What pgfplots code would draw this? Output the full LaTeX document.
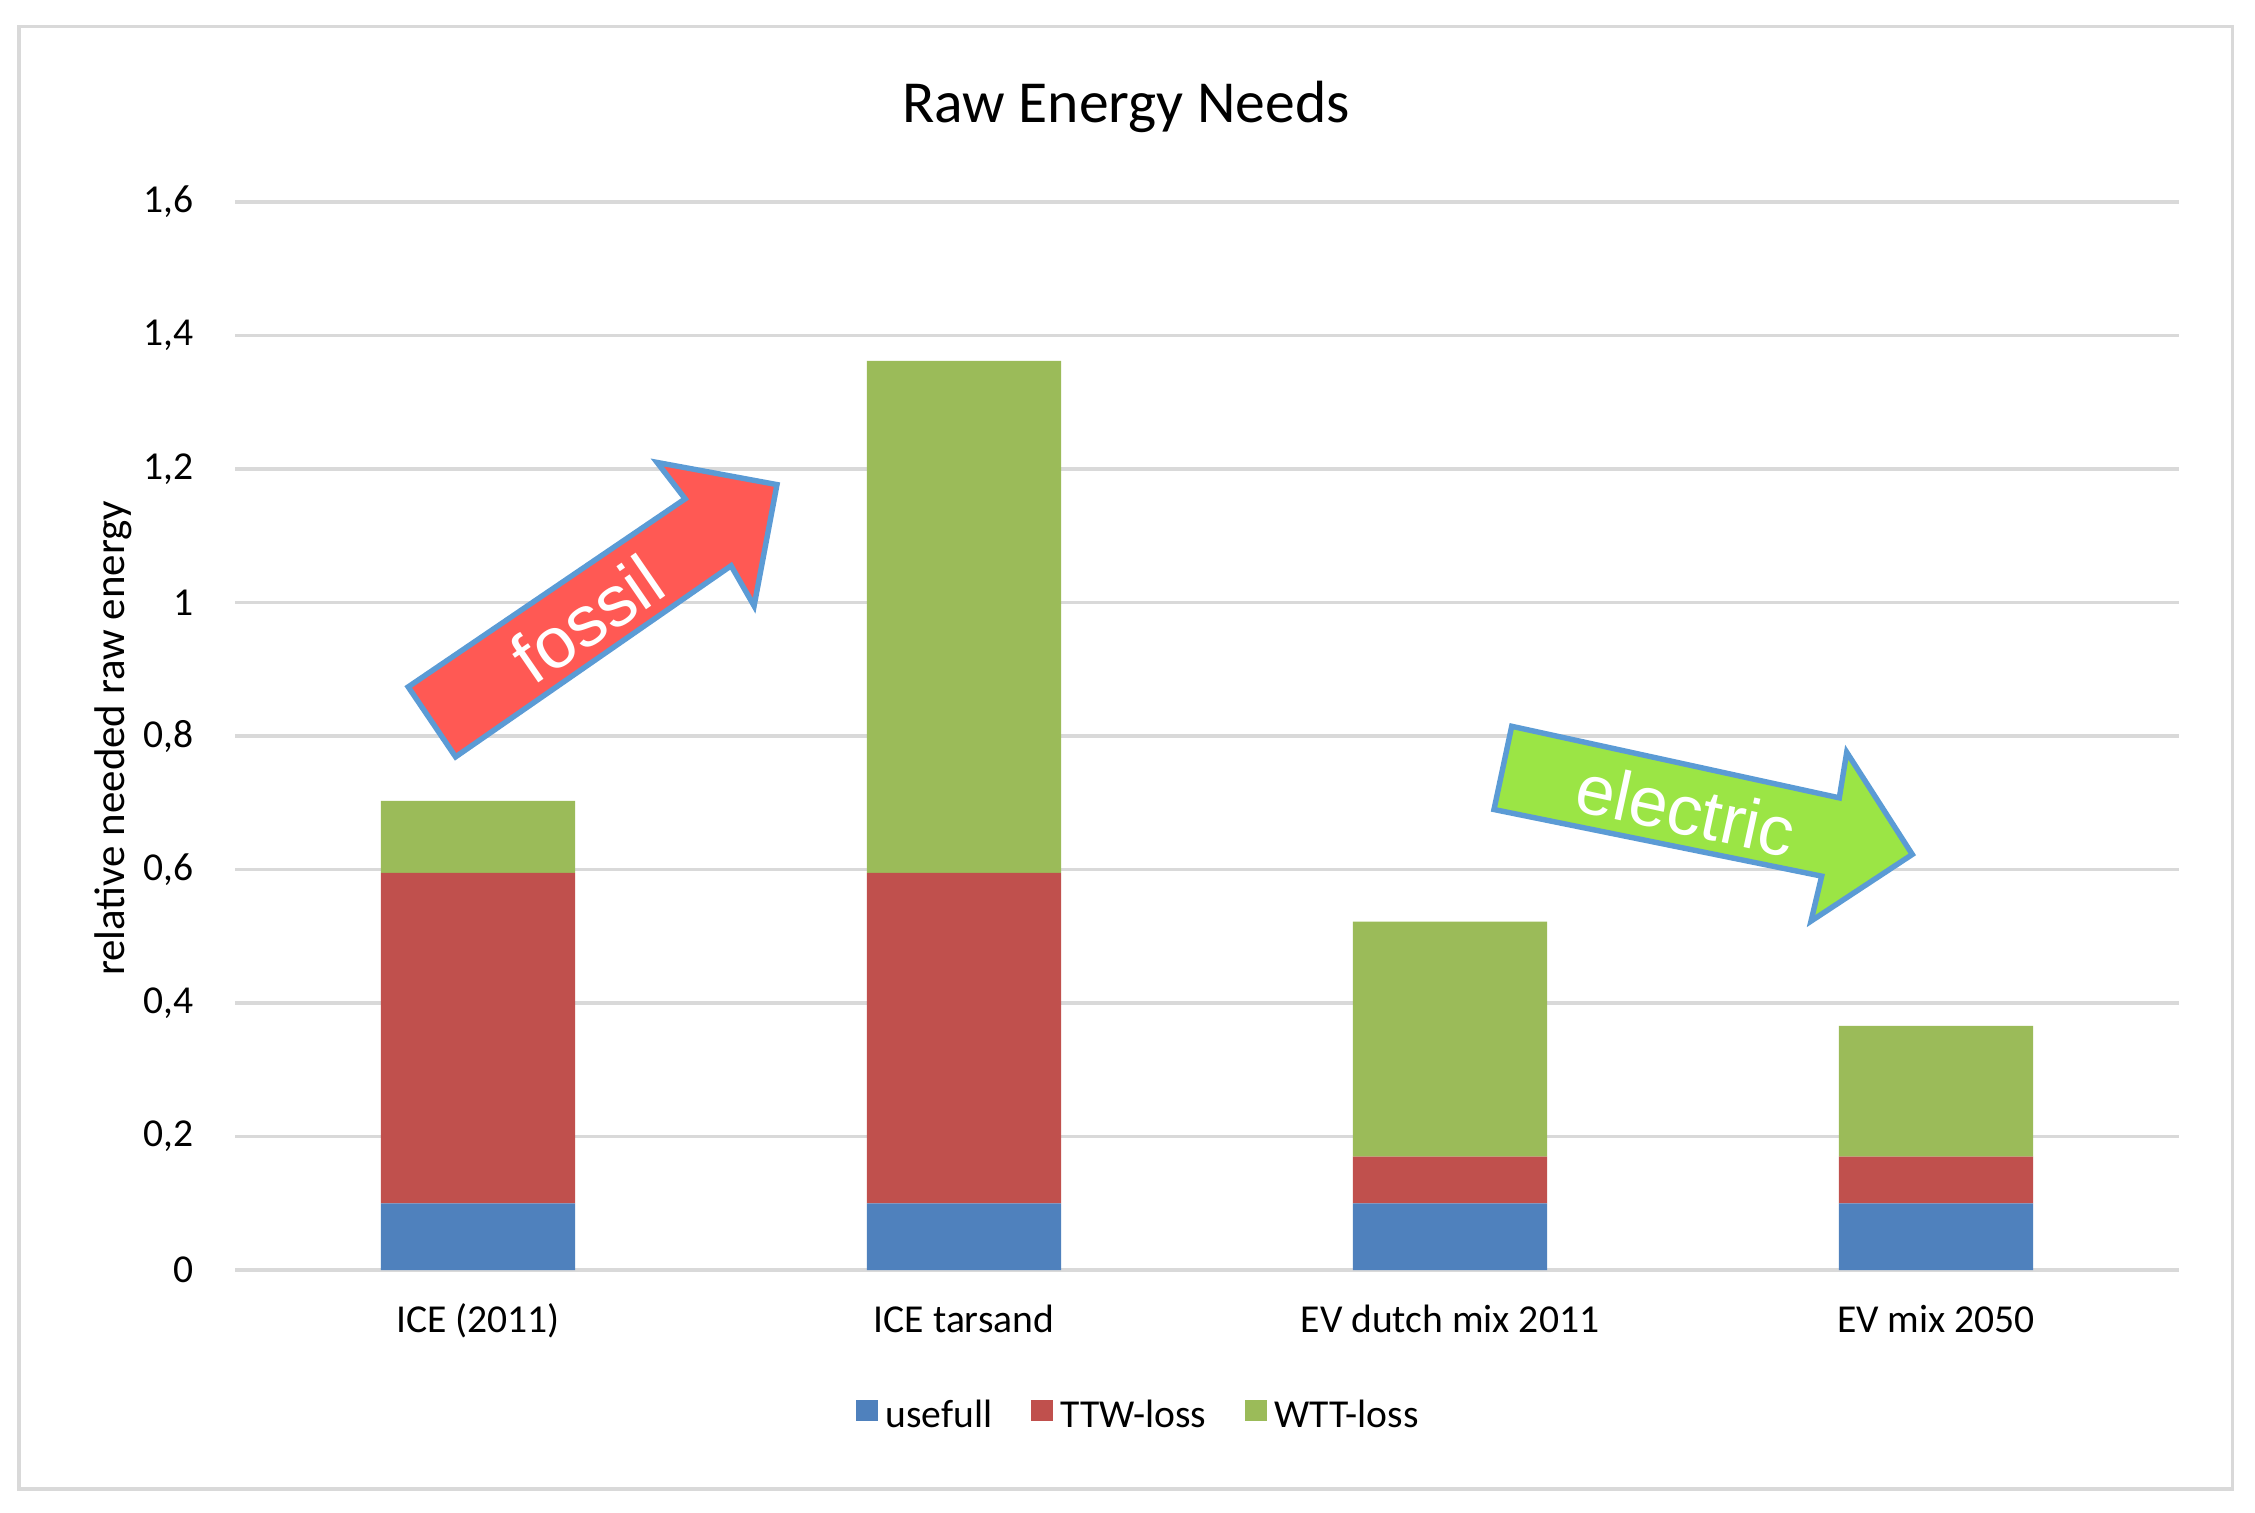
\documentclass[border=0pt]{standalone}
\usepackage{fontspec}
\setmainfont{Carlito}
\newfontfamily\arialfont{Liberation Sans}
\usepackage{pgfplots}
\pgfplotsset{compat=1.18}
\definecolor{cblue}{HTML}{4F81BD}
\definecolor{cred}{HTML}{C0504D}
\definecolor{cgreen}{HTML}{9BBB59}
\definecolor{gridgray}{HTML}{D9D9D9}
\definecolor{arrowblue}{HTML}{5B9BD5}
\definecolor{fossilred}{HTML}{FF5954}
\definecolor{elecgreen}{HTML}{9BE545}
\begin{document}
\begin{tikzpicture}
\useasboundingbox (0,0) rectangle (541.2pt,363.12pt);
\fill[white] (0,0) rectangle (541.2pt,363.12pt);
\draw[gridgray, line width=0.85pt] (4.6pt,5.8pt) rectangle (535.8pt,356.8pt);
\begin{axis}[
  at={(56.4pt,58.3pt)}, anchor=south west,
  width=466.56pt, height=256.3pt, scale only axis,
  ybar stacked, bar width=0.4,
  xmin=-0.5, xmax=3.5, ymin=0, ymax=1.6,
  xtick={0,1,2,3},
  xticklabels={ICE (2011),ICE tarsand,EV dutch mix 2011,EV mix 2050},
  ytick={0,0.2,0.4,0.6,0.8,1,1.2,1.4,1.6},
  /pgf/number format/use comma,
  /pgf/number format/assume math mode=true,
  ymajorgrids, grid style={gridgray, line width=0.85pt},
  axis line style={draw=none},
  major tick length=0pt,
  tick style={draw=none},
  yticklabel style={font=\fontsize{9.5}{11}\selectfont, anchor=east, inner sep=0pt, xshift=-9.8pt},
  xticklabel style={font=\fontsize{9.5}{11}\selectfont, anchor=base, inner sep=0pt, yshift=-15pt},
  legend columns=3,
  legend cell align=left,
  legend style={at={(0.3192,-0.1372)}, anchor=west, draw=none, fill=none,
    inner sep=0pt, outer sep=0pt, font=\fontsize{9.5}{11}\selectfont,
    nodes={inner sep=0pt},
    /tikz/every even column/.append style={column sep=9.2pt}},
  legend image code/.code={\fill[#1] (0pt,-1.1pt) rectangle (5.3pt,4.1pt); \path (7.2pt,0pt);},
]
\addplot[fill=cblue, draw=none] coordinates {(0,0.1) (1,0.1) (2,0.1) (3,0.1)};
\addplot[fill=cred, draw=none] coordinates {(0,0.495) (1,0.495) (2,0.07) (3,0.07)};
\addplot[fill=cgreen, draw=none] coordinates {(0,0.108) (1,0.767) (2,0.352) (3,0.196)};
\legend{usefull,TTW-loss,WTT-loss}
% fossil arrow corners
\coordinate (fa) at (axis cs:-0.1436,0.8737);
\coordinate (fb) at (axis cs:0.4263,1.1555);
\coordinate (fc) at (axis cs:0.3685,1.2100);
\coordinate (fd) at (axis cs:0.6152,1.1768);
\coordinate (fe) at (axis cs:0.5681,0.9951);
\coordinate (ff) at (axis cs:0.5208,1.0552);
\coordinate (fg) at (axis cs:-0.0461,0.7689);
\coordinate (ft) at (axis cs:0.2243,0.9752);
% electric arrow corners
\coordinate (ea) at (axis cs:2.1270,0.8147);
\coordinate (eb) at (axis cs:2.8010,0.7075);
\coordinate (ec) at (axis cs:2.8163,0.7758);
\coordinate (ed) at (axis cs:2.9512,0.6227);
\coordinate (ee) at (axis cs:2.7428,0.5228);
\coordinate (ef) at (axis cs:2.7648,0.5902);
\coordinate (eg) at (axis cs:2.0905,0.6900);
\coordinate (et) at (axis cs:2.486,0.690);
\end{axis}
\draw[fill=fossilred, draw=arrowblue, line width=1.3pt, line join=miter]
  (fa) -- (fb) -- (fc) -- (fd) -- (fe) -- (ff) -- (fg) -- cycle;
\node[rotate=34.5, text=white, font=\arialfont\fontsize{17.3}{18}\selectfont] at (ft) {fossil};
\draw[fill=elecgreen, draw=arrowblue, line width=1.3pt, line join=miter]
  (ea) -- (eb) -- (ec) -- (ed) -- (ee) -- (ef) -- (eg) -- cycle;
\node[rotate=-12.3, text=white, font=\arialfont\fontsize{16.8}{18}\selectfont] at (et) {electric};
\node[anchor=base, font=\fontsize{14.3}{17}\selectfont] at (270.2pt,333.7pt) {Raw Energy Needs};
\node[anchor=base, rotate=90, font=\fontsize{10.3}{12}\selectfont] at (29.9pt,185.9pt) {relative needed raw energy};
\end{tikzpicture}
\end{document}
